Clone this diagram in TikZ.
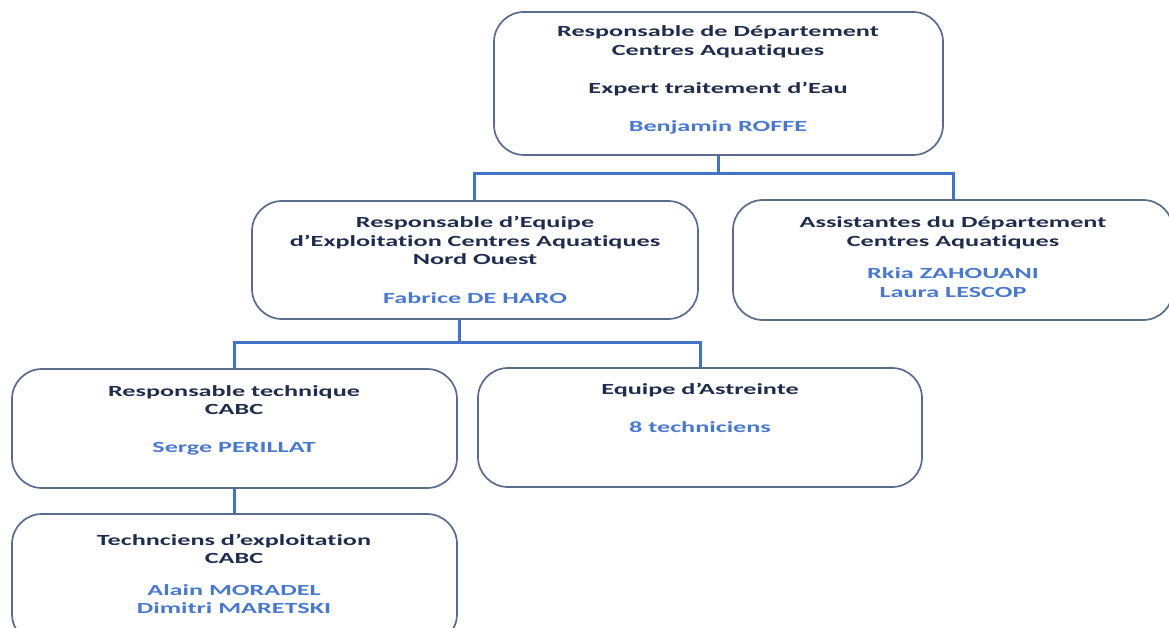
\documentclass[tikz,border=0pt]{standalone}
\usepackage{fontspec}
\setmainfont{Carlito}[Ligatures=NoCommon]
\usepackage{graphicx}
\definecolor{navy}{HTML}{1F2C4C}
\definecolor{nameblue}{HTML}{4A78CC}
\definecolor{edge}{HTML}{5A6B8E}
\definecolor{link}{HTML}{4472C4}
\newcommand{\sx}[1]{\scalebox{1.69}[1]{#1}}
\newcommand{\ap}{\char"0027\relax}
\tikzset{
  box/.style={draw=edge, line width=1.7pt, rounded corners=30pt, inner sep=0pt},
  t/.style={anchor=base, inner sep=0pt, text=navy, font=\fontsize{15.5}{18.7}\selectfont\bfseries},
  nm/.style={anchor=base, inner sep=0pt, text=nameblue, font=\fontsize{15.5}{18.7}\selectfont\bfseries},
  conn/.style={draw=link, line width=3pt}
}
\begin{document}
\begin{tikzpicture}[x=1pt,y=-1pt]
\useasboundingbox (0,0) rectangle (1169,628);
% boxes
\node[box, minimum width=449pt, minimum height=143pt] (top) at (718.5,83.5) {};
\node[box, minimum width=446pt, minimum height=118pt] (no) at (475,260) {};
\node[box, minimum width=440pt, minimum height=120pt] (asst) at (953,260) {};
\node[box, minimum width=445pt, minimum height=119pt] (rt) at (234.5,428.5) {};
\node[box, minimum width=444pt, minimum height=119pt] (ea) at (700,427.5) {};
\node[box, minimum width=445pt, minimum height=130pt] (tc) at (234.5,579) {};
% connectors
\coordinate (j1) at (718,174);
\coordinate (j2) at (459,342);
\draw[conn] (top.south -| j1) -- (j1);
\draw[conn] (no.north -| 474,0) |- (j1) -| (asst.north);
\draw[conn] (no.south -| j2) -- (j2);
\draw[conn] (rt.north) |- (j2) -| (ea.north);
\draw[conn] (rt.south) -- (tc.north);
% texts
\node[t] (t1) at (718,37) {\sx{Responsable de Département}};
\node[t] (t2) at (718,56) {\sx{Centres Aquatiques}};
\node[t] (t3) at (718,94) {\sx{Expert traitement d\ap Eau}};
\node[nm] (t4) at (718,132) {\sx{Benjamin ROFFE}};
\node[t] (n1) at (475,228) {\sx{Responsable d\ap Equipe}};
\node[t] (n2) at (475,247) {\sx{d\ap Exploitation Centres Aquatiques}};
\node[t] (n3) at (475,265) {\sx{Nord Ouest}};
\node[nm] (n4) at (475,303) {\sx{Fabrice DE HARO}};
\node[t] (a1) at (953,228) {\sx{Assistantes du Département}};
\node[t] (a2) at (953,247) {\sx{Centres Aquatiques}};
\node[nm] (a3) at (953,278) {\sx{Rkia ZAHOUANI}};
\node[nm] (a4) at (953,297) {\sx{Laura LESCOP}};
\node[t] (r1) at (234,396) {\sx{Responsable technique}};
\node[t] (r2) at (234,414) {\sx{CABC}};
\node[nm] (r3) at (234,452) {\sx{Serge PERILLAT}};
\node[t] (e1) at (700,394) {\sx{Equipe d\ap Astreinte}};
\node[nm] (e2) at (700,432) {\sx{8 techniciens}};
\node[t] (c1) at (234,545) {\sx{Technciens d\ap exploitation}};
\node[t] (c2) at (234,563) {\sx{CABC}};
\node[nm] (c3) at (234,595) {\sx{Alain MORADEL}};
\node[nm] (c4) at (234,613) {\sx{Dimitri MARETSKI}};
\end{tikzpicture}
\end{document}
